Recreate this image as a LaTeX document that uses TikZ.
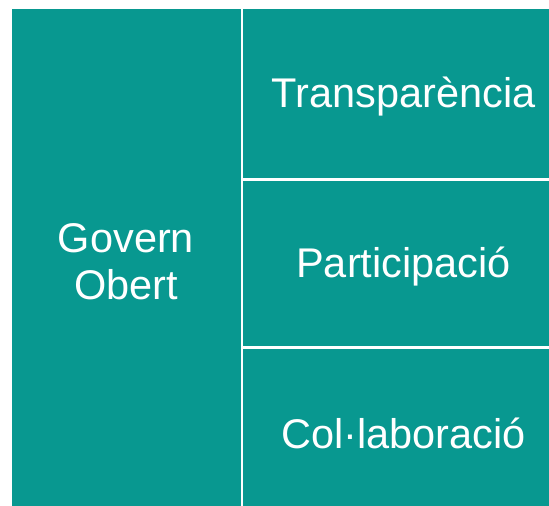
\documentclass[tikz,border=0pt]{standalone}
\usepackage{fontspec}
\setmainfont{Liberation Sans}
\definecolor{teal1}{RGB}{8,152,144}
\tikzset{
  cell/.style={fill=teal1, draw=none},
  lbl/.style={text=white, font=\fontsize{41.5}{47}\selectfont, align=center, inner sep=0pt}
}
\begin{document}
\begin{tikzpicture}[x=1pt,y=-1pt]
\useasboundingbox (0,0) rectangle (549,506);
\fill[white] (0,0) rectangle (549,506);
\path[cell] (12,9) rectangle (240.5,506);
\path[cell] (243,9) rectangle (549,177.5);
\path[cell] (243,180.5) rectangle (549,345.5);
\path[cell] (243,348.5) rectangle (549,506);
\node[lbl] (g) at (126,262) {Govern\\Obert};
\node[lbl] (t) at (403.5,97) {Transparència};
\node[lbl] (p) at (403.5,267) {Participació};
\node[lbl] (c) at (403.5,433) {Col·laboració};
\end{tikzpicture}
\end{document}
